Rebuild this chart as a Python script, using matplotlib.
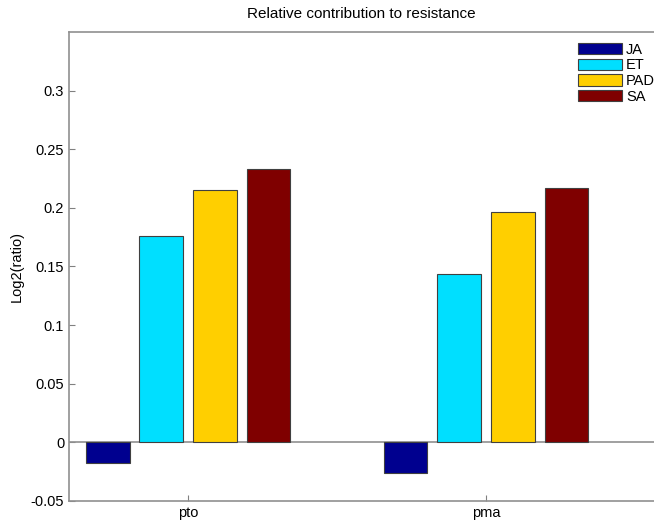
import numpy as np
import matplotlib.pyplot as plt

# data
groups = ['pto', 'pma']
series = ['JA', 'ET', 'PAD', 'SA']
JA = [-0.0173, -0.0258]
ET = [0.176, 0.1438]
PAD = [0.2154, 0.1963]
SA = [0.2333, 0.2171]
colors = ['#00008F', '#00DFFF', '#FFCF00', '#7F0000']

plt.rcParams['font.family'] = ['Liberation Sans', 'DejaVu Sans']

fig = plt.figure(figsize=(6.54, 5.21), dpi=100)
ax = fig.add_axes([0.1055, 0.0384, 0.8945, 0.9002])

x = np.arange(1, len(groups) + 1)
step = 0.18
width = 0.147
for i, (name, vals) in enumerate(zip(series, [JA, ET, PAD, SA])):
    ax.bar(x + (i - 1.5) * step, vals, width, color=colors[i],
           edgecolor='#404040', linewidth=0.8, label=name, zorder=3)

ax.axhline(0, color='#909090', linewidth=1.2, zorder=2)

ax.set_xlim(0.6, 2.564)
ax.set_ylim(-0.05, 0.35)
ax.set_xticks(x)
ax.set_xticklabels(groups)
ax.set_yticks([-0.05, 0, 0.05, 0.1, 0.15, 0.2, 0.25, 0.3])
ax.set_yticklabels(['-0.05', '0', '0.05', '0.1', '0.15', '0.2', '0.25', '0.3'])
ax.tick_params(direction='in', length=4, color='#808080', labelsize=10.5,
               top=False, right=False)

for s in ['left', 'bottom', 'top']:
    ax.spines[s].set_color('#909090')
    ax.spines[s].set_linewidth(1.2)
ax.spines['right'].set_visible(False)

ax.set_title('Relative contribution to resistance', fontsize=11, pad=10)
ax.set_ylabel('Log2(ratio)', fontsize=10.5, labelpad=5)

ax.legend(loc='upper left', bbox_to_anchor=(0.86, 0.99), frameon=False,
          fontsize=10.5, handlelength=3.0, handleheight=0.8,
          labelspacing=0.12, handletextpad=0.3, borderaxespad=0)

fig.savefig('out.png', dpi=100)
